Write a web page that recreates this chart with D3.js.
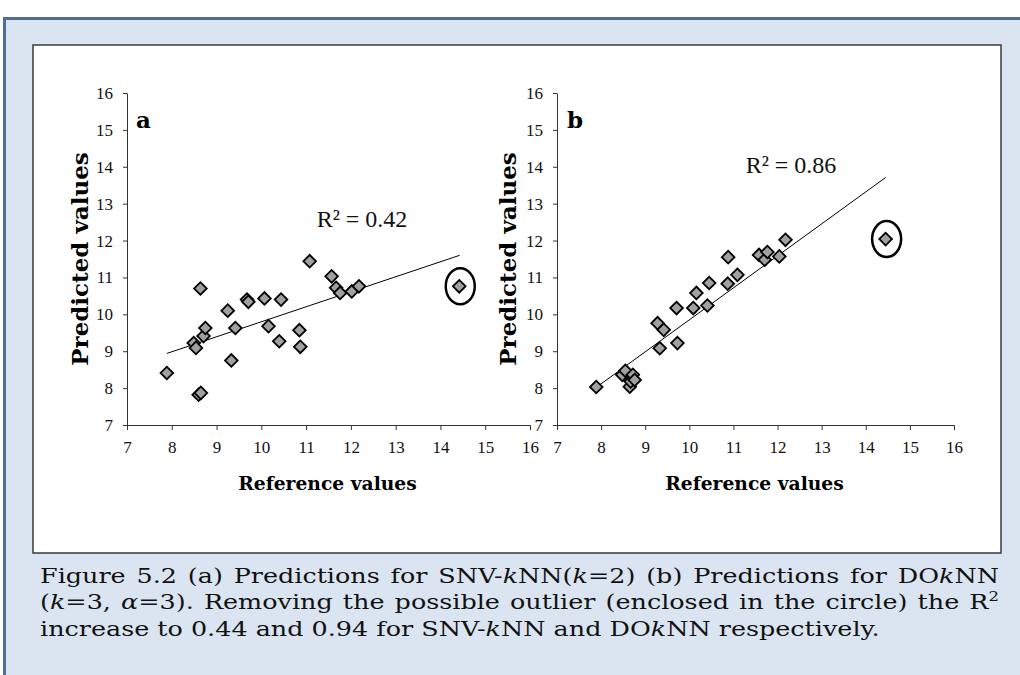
<!DOCTYPE html>
<html><head><meta charset="utf-8">
<script src="https://cdn.jsdelivr.net/npm/d3@7"></script>
<style>
html,body{margin:0;padding:0;background:#fff;}
svg{display:block;}
</style></head>
<body>
<svg id="chart" width="1020" height="675"></svg>
<script>
// ---- data ----
const xTicks = [7, 8, 9, 10, 11, 12, 13, 14, 15, 16];
const yTicks = [7, 8, 9, 10, 11, 12, 13, 14, 15, 16];

const refA  = [7.89, 8.49, 8.54, 8.64, 8.60, 8.65, 8.71, 8.75, 9.25, 9.33, 9.42, 9.68, 9.71, 10.07, 10.16, 10.40, 10.44, 10.85, 10.87, 11.08, 11.57, 11.67, 11.76, 12.02, 12.18, 14.42];
const predA = [8.41, 9.22, 9.09, 10.70, 7.82, 7.87, 9.41, 9.63, 10.10, 8.75, 9.63, 10.40, 10.34, 10.43, 9.68, 9.27, 10.40, 9.57, 9.12, 11.44, 11.03, 10.72, 10.58, 10.62, 10.76, 10.76];

const refB  = [7.89, 8.48, 8.55, 8.65, 8.67, 8.72, 8.76, 9.28, 9.33, 9.42, 9.71, 9.73, 10.09, 10.16, 10.41, 10.45, 10.87, 10.88, 11.09, 11.58, 11.71, 11.77, 12.04, 12.18, 14.45];
const predB = [8.03, 8.36, 8.47, 8.04, 8.18, 8.36, 8.22, 9.76, 9.08, 9.58, 10.17, 9.22, 10.17, 10.58, 10.24, 10.85, 10.83, 11.55, 11.07, 11.61, 11.48, 11.69, 11.57, 12.02, 12.04];

const trendAx = [7.89, 14.43], trendAy = [8.94, 11.60];
const trendBx = [7.97, 14.45], trendBy = [8.09, 13.71];

const outlierA = [14.42, 10.76];
const outlierB = [14.45, 12.04];

const panelLabels = ["a", "b"];
const r2Labels = ["R² = 0.42", "R² = 0.86"];
const xTitle = "Reference values";
const yTitle = "Predicted values";

const captionLines = [
  [["Figure 5.2 (a) Predictions for SNV-", 0], ["k", 1], ["NN(", 0], ["k", 1], ["=2) (b) Predictions for DO", 0], ["k", 1], ["NN", 0]],
  [["(", 0], ["k", 1], ["=3, ", 0], ["α", 1], ["=3). Removing the possible outlier (enclosed in the circle) the R", 0], ["2", 2]],
  [["increase to 0.44 and 0.94 for SNV-", 0], ["k", 1], ["NN and DO", 0], ["k", 1], ["NN respectively.", 0]]
];

// ---- drawing ----
const svg = d3.select("#chart");

// outer light-blue frame
svg.append("rect").attr("x", 3).attr("y", 17).attr("width", 1030).attr("height", 670)
  .attr("fill", "#dbe5f1");
svg.append("rect").attr("x", 3).attr("y", 17).attr("width", 1017).attr("height", 3).attr("fill", "#4d6d9b");
svg.append("rect").attr("x", 3).attr("y", 17).attr("width", 3).attr("height", 658).attr("fill", "#4d6d9b");

// white figure box
svg.append("rect").attr("x", 33).attr("y", 45).attr("width", 968).attr("height", 508)
  .attr("fill", "#fff").attr("stroke", "#3a3a3a").attr("stroke-width", 1.5);

const panels = [
  {ref: refA, pred: predA, tx: trendAx, ty: trendAy, out: outlierA, x0: 127, x1: 530, label: panelLabels[0], r2: r2Labels[0], r2x: 362, r2y: 227, ytitleX: 88, labX: 136},
  {ref: refB, pred: predB, tx: trendBx, ty: trendBy, out: outlierB, x0: 557, x1: 954, label: panelLabels[1], r2: r2Labels[1], r2x: 791, r2y: 173, ytitleX: 516, labX: 567}
];

panels.forEach(p => {
  const x = d3.scaleLinear().domain([7, 16]).range([p.x0, p.x1]);
  const y = d3.scaleLinear().domain([7, 16]).range([425, 93]);
  const g = svg.append("g");

  const ax = g.append("g").attr("transform", "translate(0,425)")
    .call(d3.axisBottom(x).tickValues(xTicks).tickSize(5).tickSizeOuter(0).tickPadding(11));
  const ay = g.append("g").attr("transform", `translate(${p.x0},0)`)
    .call(d3.axisLeft(y).tickValues(yTicks).tickSize(4).tickSizeOuter(0).tickPadding(10));
  [ax, ay].forEach(a => {
    a.selectAll("path,line").attr("stroke", "#333").attr("stroke-width", 1);
    a.selectAll("text").attr("font-family", "Liberation Serif, serif").attr("font-size", 17).attr("fill", "#111");
  });

  // trend line
  g.append("line")
    .attr("x1", x(p.tx[0])).attr("y1", y(p.ty[0]))
    .attr("x2", x(p.tx[1])).attr("y2", y(p.ty[1]))
    .attr("stroke", "#000").attr("stroke-width", 1);

  // points
  const pts = p.ref.map((v, i) => [v, p.pred[i]]);
  g.selectAll("path.pt").data(pts).enter().append("path")
    .attr("class", "pt")
    .attr("d", d3.symbol().type(d3.symbolSquare).size(80)())
    .attr("transform", d => `translate(${x(d[0])},${y(d[1])}) rotate(45)`)
    .attr("fill", "#a0a0a0").attr("stroke", "#000").attr("stroke-width", 1.8);

  // outlier ellipse
  g.append("ellipse").attr("cx", x(p.out[0]) + 1).attr("cy", y(p.out[1])).attr("rx", 14.5).attr("ry", 18)
    .attr("fill", "none").attr("stroke", "#000").attr("stroke-width", 2.5);

  // R² label
  g.append("text").attr("x", p.r2x).attr("y", p.r2y).attr("text-anchor", "middle")
    .attr("font-family", "Liberation Serif, serif").attr("font-size", 24).attr("fill", "#111").text(p.r2);

  // panel letter
  g.append("text").attr("x", p.labX).attr("y", 128)
    .attr("font-family", "DejaVu Serif, serif").attr("font-weight", "bold").attr("font-size", 23).attr("fill", "#000").text(p.label);

  // axis titles
  g.append("text").attr("x", (p.x0 + p.x1) / 2 - 1).attr("y", 490).attr("text-anchor", "middle")
    .attr("font-family", "DejaVu Serif, serif").attr("font-weight", "bold").attr("font-size", 18.7).attr("fill", "#000").text(xTitle);
  g.append("text").attr("transform", `translate(${p.ytitleX},259) rotate(-90)`).attr("text-anchor", "middle")
    .attr("font-family", "DejaVu Serif, serif").attr("font-weight", "bold").attr("font-size", 23).attr("fill", "#000").text(yTitle);
});

// caption: wide serif, justified, last line ragged
const capBase = [583, 609, 636];
const capLeft = 40, capRight = 999, lastLineWidth = 840;
const capTexts = captionLines.map((segs, li) => {
  const t = svg.append("text").attr("x", 0).attr("y", 0)
    .attr("font-family", "DejaVu Serif, serif").attr("font-size", 20).attr("fill", "#111");
  segs.forEach(s => {
    const ts = t.append("tspan").text(s[0]);
    if (s[1] === 1) ts.attr("font-style", "italic");
    if (s[1] === 2) ts.attr("font-size", 13).attr("baseline-shift", "super");
  });
  return t;
});
const sx = lastLineWidth / capTexts[2].node().getComputedTextLength();
capTexts.forEach((t, li) => {
  t.attr("transform", `translate(${capLeft},${capBase[li]}) scale(${sx},1)`);
  if (li < 2) {
    const natural = t.node().getComputedTextLength();
    const spaces = captionLines[li].map(s => s[0]).join("").split(" ").length - 1;
    t.style("word-spacing", (((capRight - capLeft) / sx - natural) / spaces) + "px");
  }
});
</script>
</body></html>
